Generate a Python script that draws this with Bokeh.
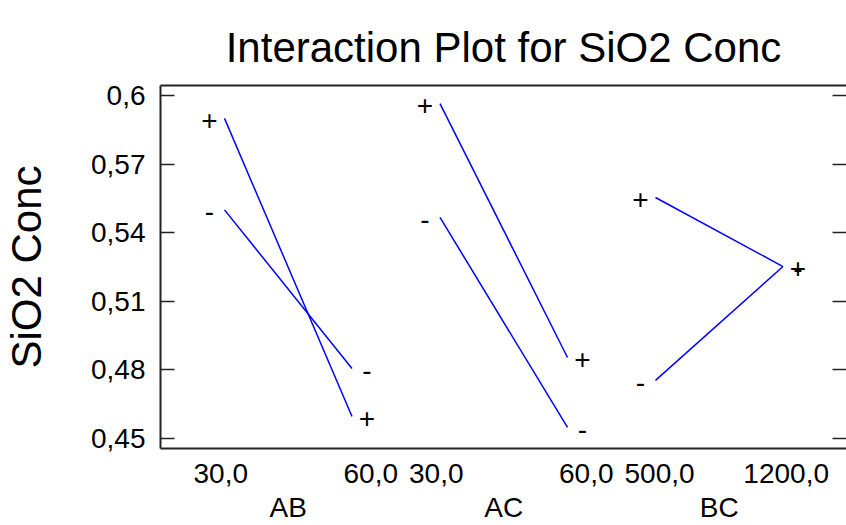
from bokeh.plotting import figure
from bokeh.models import Range1d, FixedTicker, LinearAxis, ColumnDataSource
from bokeh.core.properties import value
from bokeh.embed import file_html
from bokeh.resources import INLINE

# Interaction panels: factor pair, x-factor level labels, cell means
panels = ["AB", "AC", "BC"]
low_labels = ["30,0", "30,0", "500,0"]
high_labels = ["60,0", "60,0", "1200,0"]
minus_low = [0.550, 0.5467, 0.4754]
minus_high = [0.4806, 0.4548, 0.5252]
plus_low = [0.590, 0.5965, 0.5554]
plus_high = [0.4596, 0.4854, 0.5252]

y_ticks = [0.45, 0.48, 0.51, 0.54, 0.57, 0.60]
y_tick_labels = ["0,45", "0,48", "0,51", "0,54", "0,57", "0,6"]

TITLE = "Interaction Plot for SiO2 Conc"
FONT = "Liberation Sans"
TEXT_C = "#000000"
LINE_C = "#222222"
TICK_PX = 28
STEP = 1.69                      # distance between panel starts (line span = 1)
X_START, X_END = -0.502, 4.878
Y_START, Y_END = 0.4456, 0.6044
FRAME_W = 686
PX = FRAME_W / (X_END - X_START)  # screen pixels per x unit

x0 = [i * STEP for i in range(len(panels))]
x1 = [x + 1.0 for x in x0]


def text_width(s):
    return sum(0.278 if c == "," else 0.556 for c in s) * TICK_PX


# level labels: low one left-aligned before the line start, high one right-aligned past the end
low_pos = [x + (-31 + text_width(s) / 2) / PX for x, s in zip(x0, low_labels)]
high_pos = [x + (46 - text_width(s) / 2) / PX for x, s in zip(x1, high_labels)]

p = figure(width=846, height=525,
           x_range=Range1d(X_START, X_END), y_range=Range1d(Y_START, Y_END),
           output_backend="svg", toolbar_location=None,
           x_axis_location=None, y_axis_location=None,
           min_border_left=160, min_border_top=85, min_border_bottom=77,
           min_border_right=0)
p.grid.visible = False
p.outline_line_color = None
p.background_fill_color = "white"
p.border_fill_color = "white"

p.title.text = TITLE
p.title.align = "center"
p.title.text_font = FONT
p.title.text_font_size = "42px"
p.title.text_font_style = "normal"
p.title.text_color = TEXT_C
p.title.standoff = 30

left = LinearAxis(ticker=FixedTicker(ticks=y_ticks),
                  major_label_overrides=dict(zip(y_ticks, y_tick_labels)),
                  major_tick_in=14, major_tick_out=0,
                  minor_tick_line_color=None,
                  axis_line_width=2, axis_line_color=LINE_C,
                  major_tick_line_width=1.5, major_tick_line_color=LINE_C,
                  major_label_text_font=FONT, major_label_text_font_size=f"{TICK_PX}px",
                  major_label_text_color=TEXT_C,
                  major_label_standoff=15,
                  axis_label="SiO2 Conc", axis_label_text_font=FONT,
                  axis_label_text_font_size="42px", axis_label_text_font_style="normal",
                  axis_label_text_color=TEXT_C,
                  axis_label_standoff=38)
p.add_layout(left, "left")

right = LinearAxis(ticker=FixedTicker(ticks=y_ticks),
                   major_label_overrides={t: "" for t in y_ticks},
                   major_tick_in=14, major_tick_out=0,
                   minor_tick_line_color=None, axis_line_color=None,
                   major_tick_line_width=1.5, major_tick_line_color=LINE_C,
                   major_label_standoff=0, major_label_text_font_size="1px")
p.add_layout(right, "right")

top = LinearAxis(ticker=FixedTicker(ticks=[]), axis_line_width=2, axis_line_color=LINE_C,
                 major_tick_line_color=None, minor_tick_line_color=None,
                 major_label_standoff=0)
p.add_layout(top, "above")

level_ticks = low_pos + high_pos
level_texts = low_labels + high_labels
bottom = LinearAxis(ticker=FixedTicker(ticks=level_ticks),
                    major_label_overrides=dict(zip(level_ticks, level_texts)),
                    major_tick_line_color=None, minor_tick_line_color=None,
                    axis_line_width=2, axis_line_color=LINE_C,
                    major_label_text_font=FONT, major_label_text_font_size=f"{TICK_PX}px",
                    major_label_text_color=TEXT_C,
                    major_label_standoff=9)
p.add_layout(bottom, "below")

centers = [(a + b) / 2 for a, b in zip(x0, x1)]
names = LinearAxis(ticker=FixedTicker(ticks=centers),
                   major_label_overrides=dict(zip(centers, panels)),
                   major_tick_line_color=None, minor_tick_line_color=None,
                   axis_line_color=None,
                   major_label_text_font=FONT, major_label_text_font_size=f"{TICK_PX}px",
                   major_label_text_color=TEXT_C,
                   major_label_standoff=0)
p.add_layout(names, "below")

# interaction lines: one per level of the second factor
lines = ColumnDataSource(dict(
    xs=[[a, b] for a, b in zip(x0, x1)] * 2,
    ys=[[lo, hi] for lo, hi in zip(minus_low, minus_high)]
       + [[lo, hi] for lo, hi in zip(plus_low, plus_high)],
))
p.multi_line("xs", "ys", source=lines, line_color="#0000FF", line_width=1.5)

# level symbols at both ends of each line
sym = ColumnDataSource(dict(
    x=x0 * 2 + x1 * 2,
    y=minus_low + plus_low + minus_high + plus_high,
    t=["-"] * 3 + ["+"] * 3 + ["-"] * 3 + ["+"] * 3,
    dx=[-15] * 6 + [15] * 6,
))
p.text("x", "y", text="t", x_offset="dx", y_offset=2, source=sym,
       text_font=value(FONT), text_font_size="28px", text_color=TEXT_C,
       text_align="center", text_baseline="middle")

open("out.html", "w").write(file_html(p, INLINE))
